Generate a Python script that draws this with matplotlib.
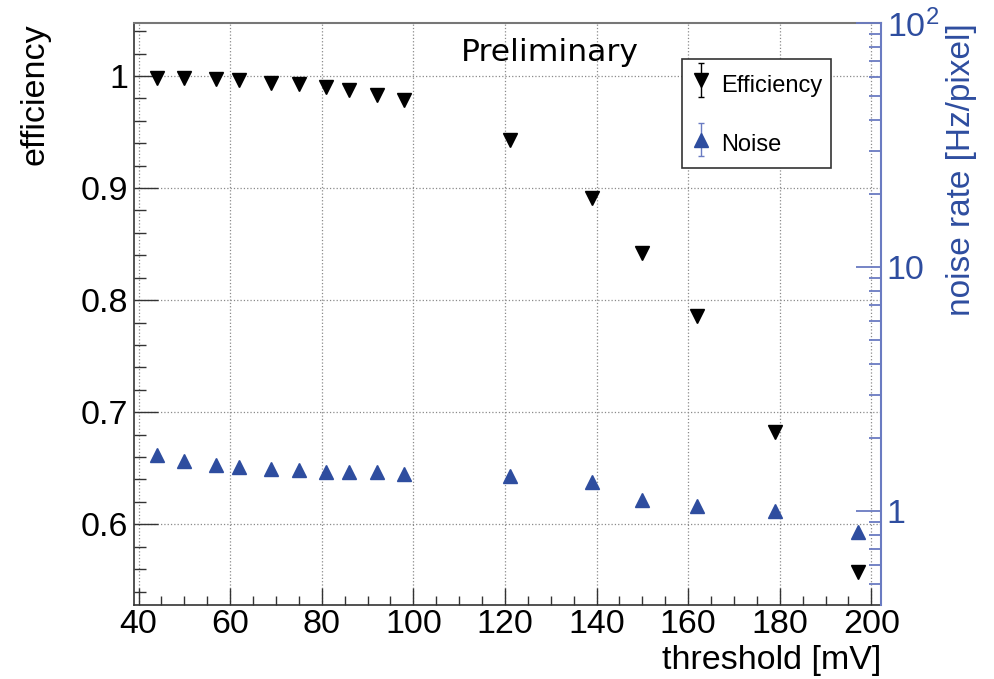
import matplotlib
matplotlib.use("Agg")
import matplotlib.pyplot as plt
from matplotlib.ticker import MultipleLocator, FixedLocator, LogLocator, NullFormatter, FuncFormatter
from matplotlib.container import ErrorbarContainer
from matplotlib.legend_handler import HandlerErrorbar

# ── Data ──────────────────────────────────────────────────────────────────────
threshold = [44, 50, 57, 62, 69, 75, 81, 86, 92, 98, 121, 139, 150, 162, 179, 197]
efficiency = [0.998, 0.998, 0.997, 0.996, 0.994, 0.993, 0.9905, 0.9875, 0.983, 0.9786,
              0.943, 0.891, 0.842, 0.786, 0.682, 0.557]
eff_err = [0.0] * len(threshold)
noise = [1.70, 1.60, 1.54, 1.52, 1.48, 1.47, 1.45, 1.45, 1.44, 1.42,
         1.39, 1.32, 1.106, 1.045, 1.00, 0.82]
noise_err = [0.0] * len(threshold)

x_ticks = [40, 60, 80, 100, 120, 140, 160, 180, 200]
eff_ticks = [0.6, 0.7, 0.8, 0.9, 1.0]
noise_ticks = [1, 10, 100]
noise_labels = {1: "1", 10: "10", 100: r"$10^{2}$"}

# ── Style ─────────────────────────────────────────────────────────────────────
plt.rcParams["font.family"] = ["Liberation Sans", "DejaVu Sans"]
plt.rcParams["mathtext.fontset"] = "custom"
plt.rcParams["mathtext.rm"] = "Liberation Sans"
plt.rcParams["mathtext.it"] = "Liberation Sans:italic"

BLUE = "#2e4d9f"
BLUE_AX = "#6a7bc2"
DARK = "#333333"
TICK_FS = 24.5
LABEL_FS = 24.5

fig = plt.figure(figsize=(9.95, 6.79), dpi=100)
ax = fig.add_axes([134 / 995, 1 - 605 / 679, 747 / 995, 582 / 679])
ax2 = ax.twinx()

# efficiency (left axis)
eb1 = ax.errorbar(threshold, efficiency, yerr=eff_err, fmt="v", color="black",
                  markersize=10.6, capsize=2, elinewidth=1, zorder=3)
ax.set_xlim(39.0, 202.1)
ax.set_ylim(0.528, 1.0473)
ax.xaxis.set_major_locator(FixedLocator(x_ticks))
ax.xaxis.set_minor_locator(MultipleLocator(5))
ax.yaxis.set_major_locator(FixedLocator(eff_ticks))
ax.yaxis.set_minor_locator(MultipleLocator(0.02))
ax.yaxis.set_major_formatter(FuncFormatter(lambda v, p: f"{v:g}"))
ax.grid(True, which="major", linestyle=":", color="#8a8a8a", linewidth=0.9)
ax.set_axisbelow(True)

ax.tick_params(axis="y", which="both", direction="in", right=False, left=True,
               labelsize=TICK_FS, pad=4.3, colors=DARK, labelcolor="black")
ax.tick_params(axis="y", which="major", length=17, width=1)
ax.tick_params(axis="y", which="minor", length=8.6, width=1)
ax.tick_params(axis="x", which="both", direction="in", top=False, bottom=True,
               labelsize=TICK_FS, pad=3, colors=DARK, labelcolor="black")
ax.tick_params(axis="x", which="major", length=12.2, width=1)
ax.tick_params(axis="x", which="minor", length=6.5, width=1)

for s in ("left", "bottom"):
    ax.spines[s].set_color(DARK)
    ax.spines[s].set_linewidth(1.2)
ax.spines["top"].set_color("#777777")
ax.spines["top"].set_linewidth(1.5)
ax.spines["right"].set_visible(False)

ax.set_xlabel("threshold [mV]", fontsize=LABEL_FS, loc="right")
ax.xaxis.set_label_coords(1.0, -0.068)
ax.set_ylabel("efficiency", fontsize=LABEL_FS, loc="top")
ax.yaxis.set_label_coords(-0.1124, 1.0)

# noise rate (right axis, log)
eb2 = ax2.errorbar(threshold, noise, yerr=noise_err, fmt="^", color=BLUE, ecolor=BLUE_AX,
                   markersize=10.6, capsize=2, elinewidth=1, zorder=3)
ax2.set_yscale("log")
ax2.set_ylim(0.4117, 100)
ax2.yaxis.set_major_locator(FixedLocator(noise_ticks))
ax2.yaxis.set_major_formatter(FuncFormatter(lambda v, p: noise_labels.get(int(round(v)), "")))
ax2.yaxis.set_minor_locator(LogLocator(base=10, subs=(2, 3, 4, 5, 6, 7, 8, 9)))
ax2.yaxis.set_minor_formatter(NullFormatter())
ax2.tick_params(axis="y", which="both", direction="in", colors=BLUE_AX,
                labelcolor=BLUE, labelsize=TICK_FS, pad=4)
ax2.tick_params(axis="y", which="major", length=18, width=1.3)
ax2.tick_params(axis="y", which="minor", length=8.6, width=1.3)
for s in ("left", "top", "bottom"):
    ax2.spines[s].set_visible(False)
ax2.spines["right"].set_color(BLUE_AX)
ax2.spines["right"].set_linewidth(1.5)
ax2.set_ylabel("noise rate [Hz/pixel]", fontsize=24, color=BLUE, loc="top")
ax2.yaxis.set_label_coords(1.087, 1.0)

# "Preliminary" label
ax.text(0.5565, 0.9500, "Preliminary", transform=ax.transAxes, ha="center", va="center",
        fontsize=22.6, family="DejaVu Sans", color="black", zorder=5)

# legend
leg = ax2.legend([eb1, eb2], ["Efficiency", "Noise"],
                 loc="upper left", bbox_to_anchor=(681.7 / 995, 1 - 59 / 679),
                 bbox_transform=fig.transFigure, fontsize=17,
                 handlelength=0.8, handleheight=1.63, handletextpad=0.45,
                 borderpad=0.4, labelspacing=1.22, borderaxespad=0,
                 fancybox=False, framealpha=1, edgecolor="#333333",
                 handler_map={ErrorbarContainer: HandlerErrorbar(xerr_size=0.3, yerr_size=0.7)})
leg.get_frame().set_linewidth(1.2)
leg.set_zorder(10)

fig.savefig("out.png", dpi=100)
